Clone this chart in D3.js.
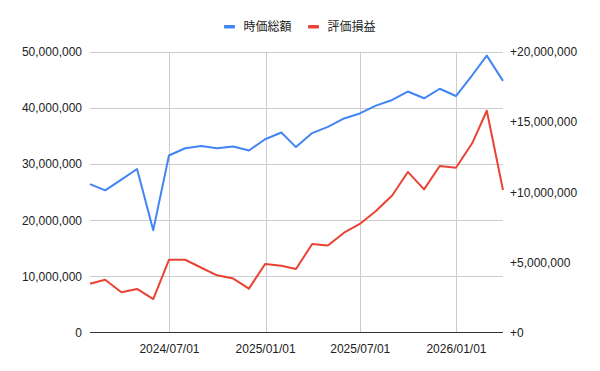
<!DOCTYPE html>
<html>
<head>
<meta charset="utf-8">
<script src="https://cdn.jsdelivr.net/npm/d3@7"></script>
<style>
  body { margin: 0; background: #fff; }
  text { font-family: Arial, "Liberation Sans", "Noto Sans CJK JP", sans-serif; }
</style>
</head>
<body>
<div id="chart"></div>
<script>
(function () {
    "use strict";

    // month-end dates
    var dates = ["2024-01-31", "2024-02-29", "2024-03-31", "2024-04-30", "2024-05-31", "2024-06-30",
                 "2024-07-31", "2024-08-31", "2024-09-30", "2024-10-31", "2024-11-30", "2024-12-31",
                 "2025-01-31", "2025-02-28", "2025-03-31", "2025-04-30", "2025-05-31", "2025-06-30",
                 "2025-07-31", "2025-08-31", "2025-09-30", "2025-10-31", "2025-11-30", "2025-12-31",
                 "2026-01-31", "2026-02-28", "2026-03-31"];

    // 時価総額 (left axis)
    var marketValue = [26400000, 25300000, 27200000, 29100000, 18200000, 31500000,
                       32800000, 33200000, 32800000, 33100000, 32400000, 34400000,
                       35600000, 33000000, 35500000, 36600000, 38100000, 39000000,
                       40400000, 41400000, 42900000, 41700000, 43400000, 42100000,
                       45800000, 49300000, 44800000];

    // 評価損益 (right axis)
    var gainLoss = [3460000, 3750000, 2850000, 3090000, 2370000, 5170000,
                    5170000, 4600000, 4060000, 3830000, 3110000, 4870000,
                    4750000, 4510000, 6290000, 6190000, 7100000, 7720000,
                    8650000, 9750000, 11430000, 10190000, 11850000, 11730000,
                    13470000, 15790000, 10140000];

    var seriesNames = ["時価総額", "評価損益"];
    var seriesColors = ["#4285f4", "#ea4335"];

    var leftTicks = [0, 10000000, 20000000, 30000000, 40000000, 50000000];
    var rightTicks = [0, 5000000, 10000000, 15000000, 20000000];
    var xTicks = ["2024-07-01", "2025-01-01", "2025-07-01", "2026-01-01"];

    var w = 600, h = 371;
    var left = 90, right = 503, top = 51.7, bottom = 332.3;

    var parse = d3.timeParse("%Y-%m-%d");
    var fmtDate = d3.timeFormat("%Y/%m/%d");
    var fmtNum = d3.format(",");

    var svg = d3.select("#chart").append("svg")
        .attr("width", w)
        .attr("height", h);

    var x = d3.scaleTime()
        .domain([parse(dates[0]), parse(dates[dates.length - 1])])
        .range([left, right]);
    var yL = d3.scaleLinear().domain([0, 50000000]).range([bottom, top]);
    var yR = d3.scaleLinear().domain([0, 20000000]).range([bottom, top]);

    // horizontal gridlines
    svg.append("g").selectAll("line")
        .data(leftTicks.slice(1))
        .enter().append("line")
        .attr("x1", left).attr("x2", right)
        .attr("y1", function (d) { return Math.round(yL(d)) + 0.5; })
        .attr("y2", function (d) { return Math.round(yL(d)) + 0.5; })
        .attr("stroke", "#cccccc");

    // vertical gridlines
    svg.append("g").selectAll("line")
        .data(xTicks)
        .enter().append("line")
        .attr("x1", function (d) { return Math.round(x(parse(d))) + 0.5; })
        .attr("x2", function (d) { return Math.round(x(parse(d))) + 0.5; })
        .attr("y1", top).attr("y2", bottom)
        .attr("stroke", "#cccccc");

    // baseline
    svg.append("line")
        .attr("x1", left).attr("x2", right)
        .attr("y1", Math.round(bottom) + 0.5).attr("y2", Math.round(bottom) + 0.5)
        .attr("stroke", "#333333");

    // left labels
    svg.append("g").selectAll("text")
        .data(leftTicks)
        .enter().append("text")
        .attr("x", 82)
        .attr("y", function (d) { return yL(d) + 4.5; })
        .attr("text-anchor", "end")
        .attr("font-size", "12px")
        .attr("fill", "#222222")
        .text(function (d) { return fmtNum(d); });

    // right labels
    svg.append("g").selectAll("text")
        .data(rightTicks)
        .enter().append("text")
        .attr("x", 510)
        .attr("y", function (d) { return yR(d) + 4.5; })
        .attr("font-size", "12px")
        .attr("fill", "#222222")
        .text(function (d) { return "+" + fmtNum(d); });

    // x labels
    svg.append("g").selectAll("text")
        .data(xTicks)
        .enter().append("text")
        .attr("x", function (d) { return x(parse(d)); })
        .attr("y", 353)
        .attr("text-anchor", "middle")
        .attr("font-size", "12px")
        .attr("fill", "#222222")
        .text(function (d) { return fmtDate(parse(d)); });

    // lines
    var lineL = d3.line()
        .x(function (d, i) { return x(parse(dates[i])); })
        .y(function (d) { return yL(d); });
    var lineR = d3.line()
        .x(function (d, i) { return x(parse(dates[i])); })
        .y(function (d) { return yR(d); });

    svg.append("path")
        .datum(marketValue)
        .attr("d", lineL)
        .attr("fill", "none")
        .attr("stroke", seriesColors[0])
        .attr("stroke-width", 2)
        .attr("stroke-linejoin", "round");

    svg.append("path")
        .datum(gainLoss)
        .attr("d", lineR)
        .attr("fill", "none")
        .attr("stroke", seriesColors[1])
        .attr("stroke-width", 2)
        .attr("stroke-linejoin", "round");

    // legend
    var legendX = [224, 308];
    var leg = svg.append("g").selectAll("g")
        .data(seriesNames)
        .enter().append("g");
    leg.append("rect")
        .attr("x", function (d, i) { return legendX[i]; })
        .attr("y", 25)
        .attr("width", 11)
        .attr("height", 3.5)
        .attr("rx", 1)
        .attr("fill", function (d, i) { return seriesColors[i]; });
    leg.append("text")
        .attr("x", function (d, i) { return legendX[i] + 19.5; })
        .attr("y", 31)
        .attr("font-size", "12px")
        .attr("fill", "#222222")
        .text(function (d) { return d; });
})();
</script>
</body>
</html>
